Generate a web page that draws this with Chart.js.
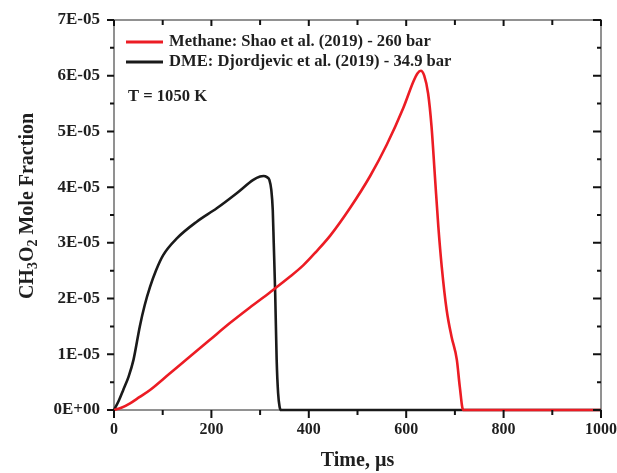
<!DOCTYPE html>
<html>
<head>
<meta charset="utf-8">
<script src="https://cdn.jsdelivr.net/npm/chart.js@4.4.1/dist/chart.umd.min.js"></script>
<style>
	html, body { margin: 0; padding: 0; background: #fff; }
	#wrap { width: 617px; height: 473px; }
</style>
</head>
<body>
<div id="wrap"><canvas id="chart" width="617" height="473"></canvas></div>
<script>
// Values, mole fraction in units of 1E-05
const methaneTime = [0, 15, 33, 52, 74, 115, 156, 197, 238, 279, 320, 361, 389, 415, 444, 485, 526, 560, 594, 615, 623, 630, 637, 645, 652, 659, 666, 673, 683, 693, 704, 710, 717, 1000];
const methaneValue = [0, 0.04, 0.12, 0.23, 0.36, 0.66, 0.96, 1.26, 1.56, 1.84, 2.11, 2.39, 2.6, 2.84, 3.13, 3.63, 4.2, 4.76, 5.42, 5.9, 6.04, 6.09, 6.0, 5.68, 5.09, 4.19, 3.29, 2.57, 1.8, 1.32, 0.9, 0.42, 0, 0];

const dmeTime = [0, 10, 19, 30, 40, 53, 63, 74, 86, 101, 129, 170, 211, 252, 286, 300, 307, 314, 319, 323, 326, 328, 331, 334, 337, 340, 343, 1000];
const dmeValue = [0, 0.17, 0.36, 0.6, 0.9, 1.5, 1.88, 2.21, 2.5, 2.78, 3.08, 3.38, 3.62, 3.89, 4.13, 4.19, 4.2, 4.18, 4.13, 3.95, 3.59, 3.0, 2.09, 0.9, 0.3, 0.06, 0, 0];

const seriesLabels = ['Methane: Shao et al. (2019) - 260 bar', 'DME: Djordjevic et al. (2019) - 34.9 bar'];
const annotationText = 'T = 1050 K';

const xTicks = [0, 200, 400, 600, 800, 1000];
const yTicks = [0, 1, 2, 3, 4, 5, 6, 7];
const yTickLabels = ['0E+00', '1E-05', '2E-05', '3E-05', '4E-05', '5E-05', '6E-05', '7E-05'];

const RED = '#ec1c24';
const BLACK = '#1a1a1a';
const TEXT = '#1f1f1f';
const SERIF = '"Liberation Serif", "Times New Roman", serif';

function toPoints(xs, ys) {
	return xs.map((x, i) => ({ x, y: ys[i] }));
}

// Frame, inner/outer tick marks, legend, annotation and the y title with subscripts
const decorations = {
	id: 'decorations',
	beforeDatasetsDraw(chart) {
		const { ctx, chartArea: a } = chart;
		ctx.save();
		ctx.strokeStyle = '#6e6e6e';
		ctx.lineWidth = 1.5;
		ctx.strokeRect(a.left, a.top, a.right - a.left, a.bottom - a.top);
		ctx.restore();
	},
	afterDraw(chart) {
		const { ctx, chartArea: a, scales } = chart;
		const x = scales.x;
		const y = scales.y;
		ctx.save();
		ctx.strokeStyle = '#111';
		ctx.lineWidth = 2;
		ctx.beginPath();
		// x ticks: outward on bottom, inward on top
		xTicks.forEach((v, i) => {
			const px = x.getPixelForValue(v);
			ctx.moveTo(px, a.bottom); ctx.lineTo(px, a.bottom + 8);
			ctx.moveTo(px, a.top); ctx.lineTo(px, a.top + 6);
			if (i < xTicks.length - 1) {
				const mx = x.getPixelForValue((v + xTicks[i + 1]) / 2);
				ctx.moveTo(mx, a.bottom); ctx.lineTo(mx, a.bottom + 5);
				ctx.moveTo(mx, a.top); ctx.lineTo(mx, a.top + 5);
			}
		});
		// y ticks: outward on left, inward on right
		yTicks.forEach((v, i) => {
			const py = y.getPixelForValue(v);
			ctx.moveTo(a.left - 7, py); ctx.lineTo(a.left, py);
			ctx.moveTo(a.right - 8, py); ctx.lineTo(a.right, py);
			if (i < yTicks.length - 1) {
				const my = y.getPixelForValue((v + yTicks[i + 1]) / 2);
				ctx.moveTo(a.left - 4, my); ctx.lineTo(a.left, my);
				ctx.moveTo(a.right - 4, my); ctx.lineTo(a.right, my);
			}
		});
		ctx.stroke();

		// legend
		const colors = [RED, BLACK];
		ctx.font = 'bold 16.6px ' + SERIF;
		ctx.textBaseline = 'middle';
		ctx.textAlign = 'left';
		seriesLabels.forEach((label, i) => {
			const ly = a.top + 22 + i * 20;
			ctx.strokeStyle = colors[i];
			ctx.lineWidth = 3;
			ctx.beginPath();
			ctx.moveTo(a.left + 12, ly);
			ctx.lineTo(a.left + 49, ly);
			ctx.stroke();
			ctx.fillStyle = TEXT;
			ctx.fillText(label, a.left + 55, ly);
		});
		ctx.fillText(annotationText, a.left + 14, a.top + 77);

		// y title: CH3O2 Mole Fraction
		const parts = [
			{ t: 'CH', sub: false },
			{ t: '3', sub: true },
			{ t: 'O', sub: false },
			{ t: '2', sub: true },
			{ t: ' Mole Fraction', sub: false }
		];
		const big = 'bold 20px ' + SERIF;
		const small = 'bold 14px ' + SERIF;
		let total = 0;
		parts.forEach((p) => {
			ctx.font = p.sub ? small : big;
			p.w = ctx.measureText(p.t).width;
			total += p.w;
		});
		ctx.translate(26, (a.top + a.bottom) / 2 - 9);
		ctx.rotate(-Math.PI / 2);
		let cx = -total / 2;
		ctx.textBaseline = 'alphabetic';
		parts.forEach((p) => {
			ctx.font = p.sub ? small : big;
			ctx.fillText(p.t, cx, p.sub ? 11 : 7);
			cx += p.w;
		});
		ctx.restore();
	}
};

new Chart(document.getElementById('chart').getContext('2d'), {
	type: 'line',
	data: {
		datasets: [
			{
				label: seriesLabels[0],
				data: toPoints(methaneTime, methaneValue),
				borderColor: RED,
				borderWidth: 2.6,
				pointRadius: 0,
				cubicInterpolationMode: 'monotone',
				clip: false
			},
			{
				label: seriesLabels[1],
				data: toPoints(dmeTime, dmeValue),
				borderColor: BLACK,
				borderWidth: 2.6,
				pointRadius: 0,
				cubicInterpolationMode: 'monotone',
				clip: false
			}
		]
	},
	options: {
		responsive: false,
		animation: false,
		events: [],
		layout: { padding: { top: 20, right: 16, left: 0, bottom: 0 } },
		plugins: {
			legend: { display: false },
			tooltip: { enabled: false },
			title: { display: false }
		},
		scales: {
			x: {
				type: 'linear',
				min: 0,
				max: 1000,
				border: { display: false },
				grid: { display: false, drawTicks: false },
				ticks: {
					stepSize: 200,
					padding: 10,
					color: TEXT,
					font: { family: SERIF, size: 16, weight: 'bold' },
					maxRotation: 0,
					callback: (value) => String(value)
				},
				title: {
					display: true,
					text: 'Time, \u00b5s',
					color: TEXT,
					padding: 0,
					font: { family: SERIF, size: 20, weight: 'bold' }
				},
				afterFit(scale) {
					scale.height = 63;
					scale.paddingLeft = 0;
					scale.paddingRight = 0;
				}
			},
			y: {
				min: 0,
				max: 7,
				border: { display: false },
				grid: { display: false, drawTicks: false },
				ticks: {
					stepSize: 1,
					padding: 14,
					color: TEXT,
					font: { family: SERIF, size: 17, weight: 'bold' },
					callback: (value, index) => yTickLabels[index]
				},
				afterFit(scale) {
					scale.width = 114;
					scale.paddingTop = 0;
					scale.paddingBottom = 0;
				}
			}
		}
	},
	plugins: [decorations]
});
</script>
</body>
</html>
